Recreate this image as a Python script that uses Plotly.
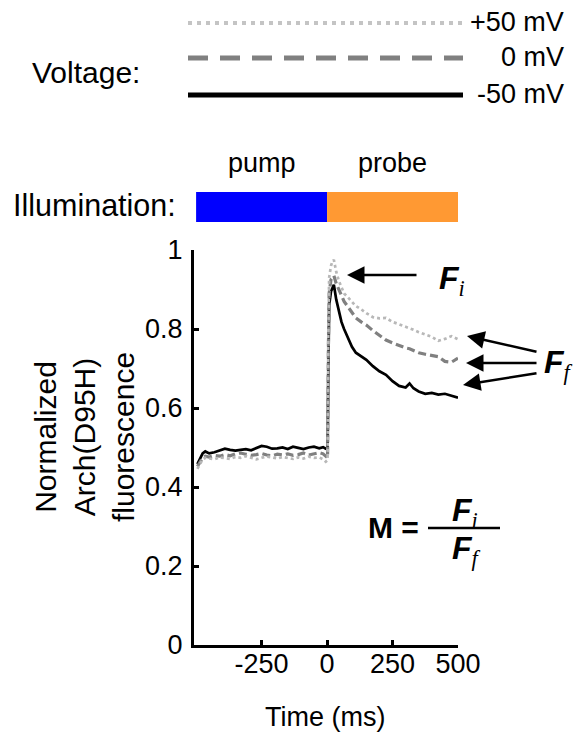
import plotly.graph_objects as go

# ---------------- data ----------------
time_ms = [-495, -485, -475, -465, -450, -430, -410, -390, -370, -350, -330, -310, -290, -270,
           -250, -230, -210, -190, -170, -150, -130, -110, -90, -70, -50, -30, -15, -5, 2,
           5, 8, 15, 20, 26,
           35, 45, 55, 65, 80, 95, 110, 130, 150, 175, 200, 225, 250, 275, 300, 315, 330,
           350, 375, 400, 425, 450, 475, 500]

f_minus50 = [0.458, 0.470, 0.485, 0.490, 0.485, 0.488, 0.492, 0.497, 0.494, 0.492, 0.494, 0.496,
             0.493, 0.499, 0.504, 0.502, 0.497, 0.498, 0.500, 0.496, 0.502, 0.499, 0.496, 0.500,
             0.502, 0.498, 0.501, 0.497, 0.496,
             0.700, 0.860, 0.895, 0.905, 0.912,
             0.875, 0.845, 0.818, 0.800, 0.775, 0.755, 0.740, 0.732, 0.722, 0.706, 0.693, 0.684,
             0.668, 0.656, 0.652, 0.662, 0.650, 0.642, 0.636, 0.638, 0.634, 0.636, 0.630, 0.626]

f_zero = [0.452, 0.462, 0.474, 0.478, 0.476, 0.480, 0.478, 0.482, 0.479, 0.484, 0.486, 0.483,
          0.480, 0.482, 0.485, 0.481, 0.479, 0.483, 0.481, 0.484, 0.480, 0.482, 0.486, 0.481,
          0.483, 0.487, 0.484, 0.478, 0.474,
          0.750, 0.890, 0.925, 0.930, 0.935,
          0.915, 0.898, 0.885, 0.870, 0.855, 0.840, 0.828, 0.818, 0.810, 0.796, 0.785, 0.772,
          0.765, 0.758, 0.752, 0.750, 0.745, 0.740, 0.736, 0.732, 0.730, 0.718, 0.716, 0.726]

f_plus50 = [0.446, 0.458, 0.470, 0.474, 0.472, 0.470, 0.475, 0.473, 0.471, 0.476, 0.474, 0.478,
            0.473, 0.470, 0.474, 0.477, 0.475, 0.472, 0.476, 0.474, 0.471, 0.475, 0.472, 0.477,
            0.474, 0.475, 0.470, 0.464, 0.468,
            0.800, 0.930, 0.960, 0.970, 0.975,
            0.945, 0.922, 0.905, 0.890, 0.880, 0.868, 0.858, 0.850, 0.840, 0.830, 0.827, 0.828,
            0.818, 0.812, 0.806, 0.803, 0.798, 0.792, 0.786, 0.780, 0.770, 0.775, 0.782, 0.774]

x_tick_vals = [-250, 0, 250, 500]
x_tick_text = ["-250", "0", "250", "500"]
y_tick_vals = [0, 0.2, 0.4, 0.6, 0.8, 1]
y_tick_text = ["0", "0.2", "0.4", "0.6", "0.8", "1"]
voltage_labels = ["+50 mV", "0 mV", "-50 mV"]
illum_labels = ["pump", "probe"]
illum_spans = [[-500, 0], [0, 500]]
illum_colors = ["#0000FF", "#FF9933"]

# ---------------- layout helpers ----------------
OFF = 8                      # default page body margin
W, H = 587 - OFF, 734 - OFF
L, R, T, B = 194, 458, 250, 645   # plot box in window pixels
FONT = "Liberation Sans, Arial, sans-serif"


def pxx(x):
    return (x - L) / (R - L)


def pxy(y):
    return (B - y) / (B - T)


fig = go.Figure()
fig.add_trace(go.Scatter(x=time_ms, y=f_minus50, mode="lines",
                         line=dict(color="#000000", width=2.7), name="-50 mV"))
fig.add_trace(go.Scatter(x=time_ms, y=f_zero, mode="lines",
                         line=dict(color="#808080", width=3.2, dash="8px,4px"), name="0 mV"))
fig.add_trace(go.Scatter(x=time_ms, y=f_plus50, mode="lines",
                         line=dict(color="#b8b8b8", width=2.7, dash="3px,3px"), name="+50 mV"))

shapes = []
annotations = []

# voltage legend
leg_styles = [dict(color="#c4c4c4", width=4, dash="4px,5px"),
              dict(color="#808080", width=5, dash="20px,12px"),
              dict(color="#000000", width=5)]
leg_y = [23, 58, 95]
for lab, st, yy in zip(voltage_labels, leg_styles, leg_y):
    shapes.append(dict(type="line", xref="paper", yref="paper",
                       x0=pxx(188), x1=pxx(463), y0=pxy(yy), y1=pxy(yy), line=st))
    annotations.append(dict(text=lab, xref="paper", yref="paper", x=pxx(566), y=pxy(yy - 1),
                            xanchor="right", yanchor="middle", showarrow=False,
                            font=dict(family=FONT, size=27, color="black")))
annotations.append(dict(text="Voltage:", xref="paper", yref="paper", x=pxx(86), y=pxy(72),
                        xanchor="center", yanchor="middle", showarrow=False,
                        font=dict(family=FONT, size=30, color="black")))

# illumination bar
for lab, span, col in zip(illum_labels, illum_spans, illum_colors):
    shapes.append(dict(type="rect", xref="x", yref="paper", x0=span[0], x1=span[1],
                       y0=pxy(222), y1=pxy(192), fillcolor=col, line=dict(width=0)))
    annotations.append(dict(text=lab, xref="x", yref="paper", x=(span[0] + span[1]) / 2,
                            y=pxy(163), xanchor="center", yanchor="middle", showarrow=False,
                            font=dict(family=FONT, size=27, color="black")))
annotations.append(dict(text="Illumination:", xref="paper", yref="paper", x=pxx(94), y=pxy(205),
                        xanchor="center", yanchor="middle", showarrow=False,
                        font=dict(family=FONT, size=30.5, color="black")))

# axis titles
annotations.append(dict(text="Normalized<br>Arch(D95H)<br>fluorescence", xref="paper", yref="paper",
                        x=pxx(84), y=pxy(437), textangle=-90, xanchor="center", yanchor="middle",
                        showarrow=False, font=dict(family=FONT, size=30, color="black")))
annotations.append(dict(text="Time (ms)", xref="paper", yref="paper", x=pxx(325), y=pxy(717),
                        xanchor="center", yanchor="middle", showarrow=False,
                        font=dict(family=FONT, size=27, color="black")))


def fsym(sub):
    return ("<b><i>F</i></b><sub><span style=\"font-family:Liberation Serif\"><i>%s</i></span></sub>"
            % sub)


def arrow(head, tail):
    hx, hy = head
    tx, ty = tail
    return dict(text="", xref="paper", yref="paper", x=pxx(hx), y=pxy(hy),
                ax=tx - hx, ay=ty - hy, axref="pixel", ayref="pixel",
                showarrow=True, arrowhead=2, arrowsize=1.4, arrowwidth=2.5,
                arrowcolor="black")


FS = 32
# F_i annotation
annotations.append(dict(text=fsym("i"), xref="paper", yref="paper", x=pxx(437), y=pxy(280),
                        xanchor="left", yanchor="middle", showarrow=False,
                        font=dict(family=FONT, size=FS, color="black")))
annotations.append(arrow((347, 275), (418, 275)))
# F_f annotation
annotations.append(dict(text=fsym("f"), xref="paper", yref="paper", x=pxx(542), y=pxy(364),
                        xanchor="left", yanchor="middle", showarrow=False,
                        font=dict(family=FONT, size=FS, color="black")))
for tail, head in [((538, 352), (467, 336)), ((538, 363), (466, 363)), ((538, 373), (463, 385))]:
    annotations.append(arrow(head, tail))

# M = Fi / Ff
annotations.append(dict(text="<b>M =</b>", xref="paper", yref="paper", x=pxx(393), y=pxy(527),
                        xanchor="center", yanchor="middle", showarrow=False,
                        font=dict(family=FONT, size=30, color="black")))
shapes.append(dict(type="line", xref="paper", yref="paper", x0=pxx(428), x1=pxx(500),
                   y0=pxy(528), y1=pxy(528), line=dict(color="black", width=2.5)))
annotations.append(dict(text=fsym("i"), xref="paper", yref="paper", x=pxx(465), y=pxy(512),
                        xanchor="center", yanchor="middle", showarrow=False,
                        font=dict(family=FONT, size=FS, color="black")))
annotations.append(dict(text=fsym("f"), xref="paper", yref="paper", x=pxx(466), y=pxy(550),
                        xanchor="center", yanchor="middle", showarrow=False,
                        font=dict(family=FONT, size=FS, color="black")))

fig.update_layout(
    width=W, height=H,
    margin=dict(l=L - OFF, r=W - (R - OFF), t=T - OFF, b=H - (B - OFF), pad=0),
    paper_bgcolor="white", plot_bgcolor="white",
    showlegend=False,
    font=dict(family=FONT, size=27, color="black"),
    shapes=shapes, annotations=annotations,
    xaxis=dict(range=[-508, 500], tickvals=x_tick_vals, ticktext=x_tick_text, ticks="inside",
               ticklen=5, tickwidth=2.5, tickcolor="black", showline=True, linecolor="black",
               linewidth=3, showgrid=False, zeroline=False, ticklabelstandoff=-7,
               tickfont=dict(family=FONT, size=27, color="black")),
    yaxis=dict(range=[0, 1], tickvals=y_tick_vals, ticktext=y_tick_text, ticks="inside", ticklen=5,
               tickwidth=2.5, tickcolor="black", showline=True, linecolor="black", linewidth=3,
               showgrid=False, zeroline=False, ticklabelstandoff=3,
               tickfont=dict(family=FONT, size=27, color="black")),
)

fig.write_html("out.html")
